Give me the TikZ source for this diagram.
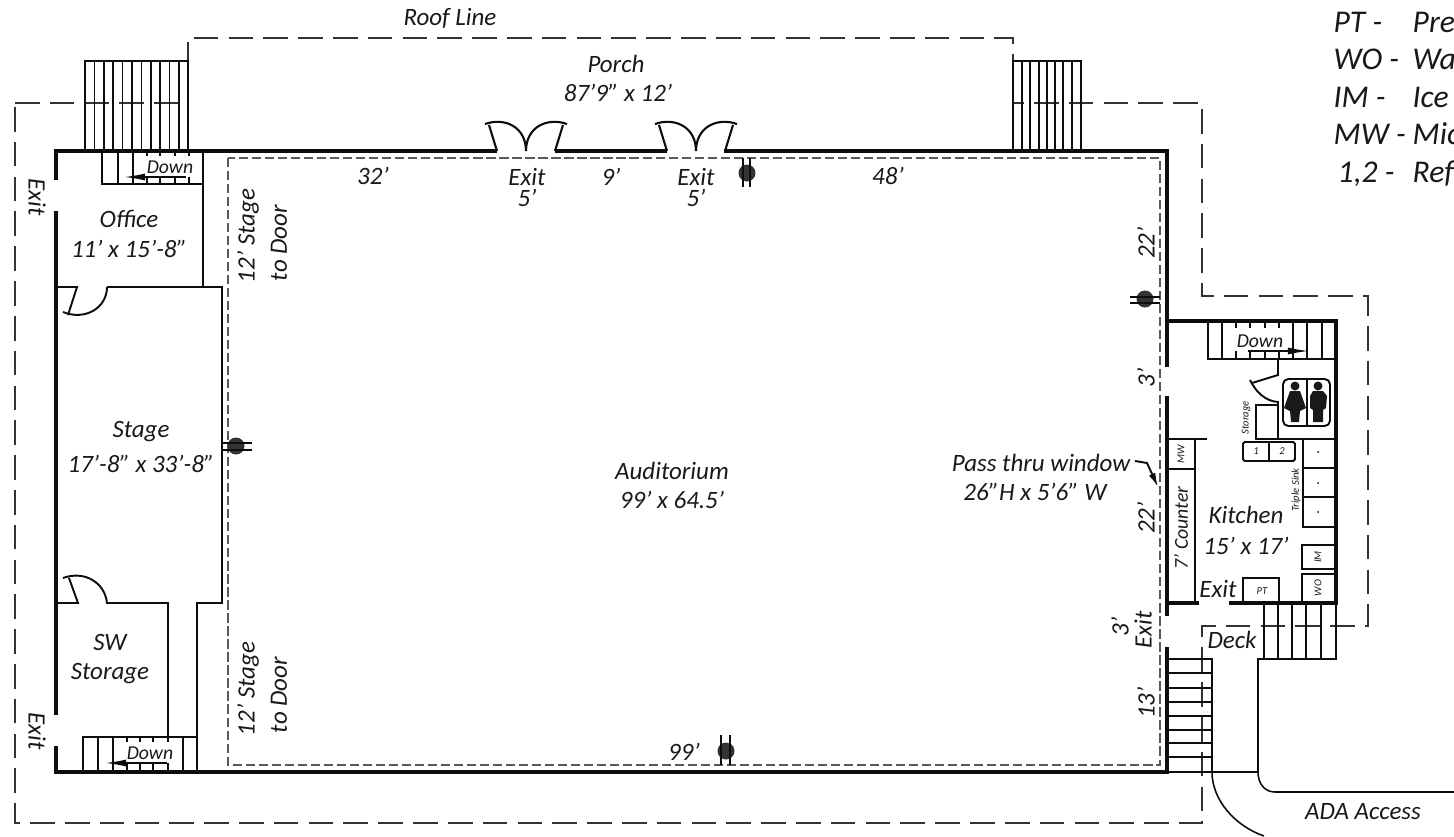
\documentclass[tikz,border=0pt]{standalone}
\usepackage{fontspec}
\setmainfont{Carlito}
\usetikzlibrary{arrows.meta}
\tikzset{
  wall/.style={line width=1.05pt, black!95},
  fine/.style={line width=0.45pt, black!95},
  roofline/.style={line width=0.5pt, black!80, dash pattern=on 7pt off 2.9pt},
  clearline/.style={line width=0.65pt, black!65, dash pattern=on 2.6pt off 1.1pt},
  label/.style={font=\itshape\fontsize{7.1}{8}\selectfont, inner sep=0pt, black!90},
  tiny/.style={font=\itshape\fontsize{3}{3}\selectfont, inner sep=0pt, black!90},
  small/.style={font=\itshape\fontsize{5.6}{6}\selectfont, inner sep=0pt, black!90},
  legend/.style={font=\itshape\fontsize{9}{10}\selectfont, inner sep=0pt, black!90, anchor=base west},
}
\begin{document}
\begin{tikzpicture}[x=0.01cm, y=-0.01cm]
        \useasboundingbox (0,0) rectangle (1454,836);
        % roof line and clear line
        \draw[roofline] (15,103) -- (188,103) -- (188,38) -- (1013,38) -- (1013,103) -- (1202,103) -- (1202,296) -- (1368,296) -- (1368,626) -- (1202,626) -- (1202,823) -- (15,823) -- cycle;
        \draw[clearline] (228,158) rectangle (1160,765);
        % outside walls
        \draw[wall] (56,180) -- (56,151) -- (497,151);
        \draw[wall] (555,151) -- (667,151);
        \draw[wall] (724,151) -- (1167,151) -- (1167,367);
        \draw[wall] (1167,396) -- (1167,616);
        \draw[wall] (1167,647) -- (1167,772) -- (56,772) -- (56,746);
        \draw[wall] (56,211) -- (56,715);
        \draw[wall] (1167,321) -- (1336,321) -- (1336,603) -- (1229,603);
        \draw[wall] (1199,603) -- (1167,603);
        % exit doors on the porch side
        \foreach \shiftx in {0,170} {
                \begin{scope}[shift={(\shiftx,0)}, fine, line width=0.6pt]
                        \draw (497,151) -- (489,125);
                        \draw (555,151) -- (563,125);
                        \draw (485,124) .. controls (505,117) and (526,127) .. (526,151);
                        \draw (567,124) .. controls (547,117) and (526,127) .. (526,151);
                \end{scope}
        }
        % inside walls on the stage side
        \begin{scope}[fine, line width=0.55pt]
                \draw (203,151) -- (203,287);
                \draw (56,287) -- (77,287) -- (68,315);
                \draw (107,287) -- (222,287) -- (222,603) -- (197,603) -- (197,772);
                \draw (63,312) .. controls (85,321) and (107,308) .. (107,287);
                \draw (56,603) -- (78,603) -- (69,578);
                \draw (63,578) .. controls (85,570) and (105,583) .. (107,603) -- (168,603) -- (168,737);
        \end{scope}
        % stairs
        \begin{scope}[fine]
                % porch, left
                \draw (85,151) -- (85,61) -- (188,61) -- (188,151);
                \foreach \stairx in {94.4,103.8,113.2,122.6,132,141.4,150.8,160.2,169.6,179} {
                        \draw (\stairx,61) -- (\stairx,151);
                }
                % porch, right
                \draw (1013,151) -- (1013,61) -- (1081,61) -- (1081,151);
                \foreach \stairx in {1022,1030,1039,1047,1055,1063,1072} {
                        \draw (\stairx,61) -- (\stairx,151);
                }
                % office
                \draw (102,151) -- (102,184) -- (203,184);
                \draw (118,151) -- (118,184);
                \draw (133,151) -- (133,184);
                \foreach \stairx in {147,160,175,189} {
                        \draw (\stairx,151) -- (\stairx,156);
                        \draw (\stairx,177) -- (\stairx,184);
                }
                \draw[-{Latex[length=6pt,width=2pt]}] (186,177) -- (124,177);
                % sw storage
                \draw (83,772) -- (83,737) -- (197,737);
                \draw (98,737) -- (98,772);
                \draw (113,737) -- (113,772);
                \draw (183,737) -- (183,772);
                \foreach \stairx in {127,140,153,168} {
                        \draw (\stairx,737) -- (\stairx,742);
                        \draw (\stairx,763) -- (\stairx,772);
                }
                \draw[-{Latex[length=6pt,width=2pt]}] (167,763) -- (105,763);
                % kitchen
                \draw (1208,321) -- (1208,359) -- (1336,359);
                \draw (1222,321) -- (1222,359);
                \foreach \stairx in {1236,1250,1265,1279} {
                        \draw (\stairx,321) -- (\stairx,328);
                        \draw (\stairx,351) -- (\stairx,359);
                }
                \foreach \stairx in {1293,1307,1322} {
                        \draw (\stairx,321) -- (\stairx,359);
                }
                \draw[-{Latex[length=6pt,width=2pt]}] (1248,351) -- (1309,351);
                % deck to yard
                \draw (1264,603) -- (1264,659) -- (1336,659) -- (1336,603);
                \foreach \stairx in {1278,1292,1306,1321} {
                        \draw (\stairx,603) -- (\stairx,659);
                }
                % front of the deck
                \draw (1167,659) -- (1212,659) -- (1212,772);
                \foreach \stairy in {673,688,702,716,730,743,757} {
                        \draw (1167,\stairy) -- (1212,\stairy);
                }
                % ada ramp
                \draw (1264,659) -- (1258,659) -- (1258,772) .. controls (1258,784) and (1265,792) .. (1275,792) -- (1454,792);
                \draw (1167,772) -- (1258,772);
                \draw (1212,772) .. controls (1212,800) and (1235,826) .. (1264,836);
        \end{scope}
        % posts
        \begin{scope}[fine, line width=0.5pt]
                \fill[black!80] (747,173) circle [radius=8.5];
                \draw (743,158) -- (743,187);
                \draw (750,158) -- (750,187);
                \fill[black!80] (726,751) circle [radius=8.5];
                \draw (721,735) -- (721,765);
                \draw (730,735) -- (730,765);
                \fill[black!80] (236,446) circle [radius=8.5];
                \draw (222,443) -- (252,443);
                \draw (222,450) -- (252,450);
                \fill[black!80] (1145,299) circle [radius=8.5];
                \draw (1130,297) -- (1160,297);
                \draw (1130,303) -- (1160,303);
        \end{scope}
        % kitchen fittings
        \begin{scope}[fine, line width=0.55pt]
                \draw (1167,439) -- (1207,439);
                \draw (1195,439) -- (1195,603);
                \draw (1167,469) -- (1195,469);
                \draw (1278,359) -- (1278,375) -- (1252,383);
                \draw (1250,380) .. controls (1256,392) and (1265,401) .. (1278,402) -- (1278,438);
                \draw (1256,405) rectangle (1278,439);
                \draw (1278,439) -- (1334,439);
                \draw[rounded corners=1.5pt] (1283,379) rectangle (1330,426);
                \draw (1307,379) -- (1307,426);
                \draw[rounded corners=0.5pt] (1243,442) rectangle (1295,461);
                \draw (1269,442) -- (1269,461);
                \draw (1303,439) -- (1303,527) -- (1334,527);
                \draw (1303,468) -- (1334,468);
                \draw (1303,497) -- (1334,497);
                \fill (1318,452) circle [radius=1];
                \fill (1318,483) circle [radius=1];
                \fill (1318,512) circle [radius=1];
                \draw (1334,545) -- (1302,545) -- (1302,569) -- (1334,569);
                \draw (1334,574) -- (1302,574) -- (1302,603);
                \draw (1243,603) -- (1243,578) -- (1279,578) -- (1279,603);
                \draw[-{Latex[length=4pt,width=2pt]}] (1135,461) -- (1147,463) -- (1158,487);
        \end{scope}
        % restroom signs
        \fill[black!90] (1295,386) circle [radius=4.5];
        \fill[black!90] (1290,391) -- (1300,391) -- (1306,408) -- (1300,411) -- (1299,422) -- (1291,422) -- (1290,411) -- (1284,408) -- cycle;
        \fill[black!90] (1318,386) circle [radius=4.5];
        \fill[black!90] (1313,391) -- (1323,391) -- (1327,396) -- (1326,408) -- (1323,410) -- (1323,422) -- (1313,422) -- (1313,410) -- (1310,408) -- (1310,396) -- cycle;
        % labels
        \begin{scope}[every node/.style={label}]
                \node (roof) at (450,18) {Roof Line};
                \node (porch) at (616,64) {Porch};
                \node (porchsize) at (618,93) {87'9" x 12'};
                \node (top32) at (373,176) {32'};
                \node (exitA) at (527,177) {Exit};
                \node (widthA) at (527,198) {5'};
                \node (top9) at (611,177) {9'};
                \node (exitB) at (696,177) {Exit};
                \node (widthB) at (696,198) {5'};
                \node (top48) at (888,176) {48'};
                \node (office) at (129,219) {Office};
                \node (officesize) at (129,249) {11' x 15'-8"};
                \node (stage) at (141,432) {Stage};
                \node (stagesize) at (141,464) {17'-8" x 33'-8"};
                \node (hall) at (672,471) {Auditorium};
                \node (hallsize) at (672,500) {99' x 64.5'};
                \node (sw) at (110,642) {SW};
                \node (storage) at (110,674) {Storage};
                \node (bottom99) at (684,752) {99'};
                \node (passA) at (1041,463) {Pass thru window};
                \node (passB) at (1035,492) {26"H x 5'6" W};
                \node (kitchen) at (1246,515) {Kitchen};
                \node (kitchensize) at (1246,546) {15' x 17'};
                \node (exitkitchen) at (1218,589) {Exit};
                \node (deck) at (1232,640) {Deck};
                \node (ada) at (1363,812) {ADA Access};
                \node[rotate=-90] (exitC) at (37,197) {Exit};
                \node[rotate=-90] (exitD) at (37,731) {Exit};
                \node[rotate=90] (stageA) at (248,236) {12' Stage};
                \node[rotate=90] (doorA) at (279,243) {to Door};
                \node[rotate=90] (stageB) at (248,689) {12' Stage};
                \node[rotate=90] (doorB) at (279,695) {to Door};
                \node[rotate=90] (right22A) at (1146,243) {22'};
                \node[rotate=90] (right3A) at (1146,378) {3'};
                \node[rotate=90] (right22B) at (1146,518) {22'};
                \node[rotate=90] (right3B) at (1120,627) {3'};
                \node[rotate=90] (exitE) at (1143,630) {Exit};
                \node[rotate=90] (right13) at (1146,703) {13'};
                \node[rotate=90, small] (counter) at (1181,528) {7' Counter};
        \end{scope}
        \begin{scope}[every node/.style={small}]
                \node (downA) at (170,167) {Down};
                \node (downB) at (150,753) {Down};
                \node (downC) at (1260,341) {Down};
        \end{scope}
        \begin{scope}[every node/.style={tiny}]
                \node[rotate=90] (closet) at (1246,418) {Storage};
                \node[rotate=90] (sink) at (1296,490) {Triple Sink};
                \node[rotate=90] (mwA) at (1181,454) {MW};
                \node[rotate=90] (im) at (1318,557) {IM};
                \node[rotate=90] (wo) at (1318,588) {WO};
                \node (pt) at (1262,591) {PT};
                \node (boxA) at (1256,451) {1};
                \node (boxB) at (1282,451) {2};
        \end{scope}
        % legend
        \begin{scope}[every node/.style={legend}]
                \node (keyA) at (1333,32) {PT -};
                \node (keyB) at (1333,69) {WO -};
                \node (keyC) at (1333,107) {IM -};
                \node (keyD) at (1333,144) {MW -};
                \node (keyE) at (1337,182) {1,2 -};
                \node (textA) at (1412,32) {Prep};
                \node (textB) at (1412,69) {Wa};
                \node (textC) at (1412,107) {Ice};
                \node (textD) at (1412,144) {Mic};
                \node (textE) at (1412,182) {Ref};
        \end{scope}
\end{tikzpicture}
\end{document}
